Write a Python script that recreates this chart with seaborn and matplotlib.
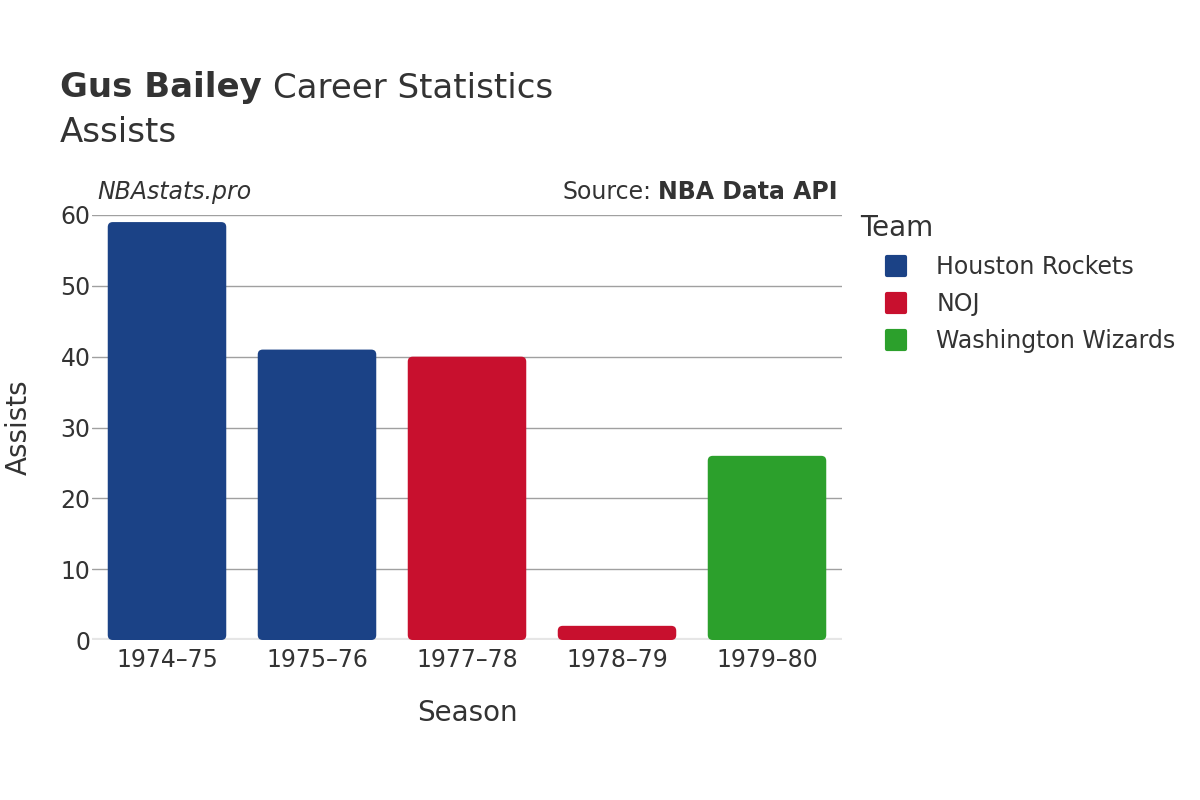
import matplotlib
matplotlib.use("Agg")
import matplotlib.pyplot as plt
import seaborn as sns
import pandas as pd
from matplotlib.patches import FancyBboxPatch
from matplotlib.lines import Line2D
from matplotlib.markers import MarkerStyle

seasons = ["1974–75", "1975–76", "1977–78", "1978–79", "1979–80"]
teams = ["Houston Rockets", "Houston Rockets", "NOJ", "NOJ", "Washington Wizards"]
assists = [59, 41, 40, 2, 26]
team_order = ["Houston Rockets", "NOJ", "Washington Wizards"]
team_colors = ["#1b4286", "#c8102e", "#2ca02c"]

df = pd.DataFrame({"Season": seasons, "Team": teams, "Assists": assists})

sns.set_theme(style="white")
plt.rcParams["font.family"] = ["DejaVu Sans"]
TXT = "#333333"

fig = plt.figure(figsize=(12, 8), dpi=100)
ax = fig.add_axes([92/1200, 1-640/800, 750/1200, 425/800])

sns.barplot(data=df, x="Season", y="Assists", hue="Team", hue_order=team_order,
            palette=team_colors, dodge=False, width=0.79, ax=ax, legend=False,
            order=seasons, saturation=1)

# rounded bars
px_x = 750/5  # px per x unit
px_y = 425/60
r_px = 5
for p in list(ax.patches):
    x, y = p.get_x(), p.get_y()
    w, h = p.get_width(), p.get_height()
    fc = p.get_facecolor()
    p.remove()
    if h == 0 or pd.isna(h):
        continue
    fb = FancyBboxPatch((x, y), w, h,
                        boxstyle=f"round,pad=0,rounding_size={r_px/px_x}",
                        mutation_aspect=px_x/px_y, facecolor=fc, edgecolor="none",
                        zorder=3)
    ax.add_patch(fb)

ax.set_ylim(0, 60)
ax.set_xlim(-0.5, 4.5)
ax.set_yticks([0, 10, 20, 30, 40, 50, 60])
ax.yaxis.grid(True, color="#a0a0a0", linewidth=1)
ax.set_axisbelow(True)
for s in ax.spines.values():
    s.set_visible(False)
ax.axhline(0, color="#e6e6e6", linewidth=3, zorder=2)
ax.tick_params(axis="both", labelsize=17, colors=TXT, length=0)
ax.tick_params(axis="x", pad=6)
ax.tick_params(axis="y", pad=1)
ax.set_xlabel("Season", fontsize=20, color=TXT, labelpad=19)
ax.set_ylabel("Assists", fontsize=20, color=TXT, labelpad=20)

# titles
t1 = fig.text(60/1200, 1-88/800, "Gus Bailey", fontsize=24.5, fontweight="bold",
              color=TXT, va="center")
fig.canvas.draw()
bb = t1.get_window_extent()
fig.text((bb.x1 + 11)/1200, 1-88/800, "Career Statistics", fontsize=24.5,
         color=TXT, va="center")
fig.text(60/1200, 1-132/800, "Assists", fontsize=24.5, color=TXT, va="center")

fig.text(97/1200, 1-192/800, "NBAstats.pro", fontsize=17, style="italic",
         color=TXT, va="center")
s2 = fig.text(838/1200, 1-192/800, "NBA Data API", fontsize=17, fontweight="bold",
              color=TXT, va="center", ha="right")
fig.canvas.draw()
bb2 = s2.get_window_extent()
fig.text((bb2.x0 - 7)/1200, 1-192/800, "Source:", fontsize=17, color=TXT,
         va="center", ha="right")

ms = MarkerStyle("s", joinstyle="round")
handles = [Line2D([0], [0], marker=ms, linestyle="none", markersize=13,
                  markeredgewidth=3, markerfacecolor=c, markeredgecolor=c)
           for c in team_colors]
leg = fig.legend(handles, team_order, loc="upper left",
                 bbox_to_anchor=(839/1200, 1-193/800), frameon=False,
                 fontsize=17, title="Team", title_fontsize=20,
                 labelspacing=0.55, handlelength=3.05, handletextpad=0.17,
                 alignment="left")
leg.get_title().set_color(TXT)
for t in leg.get_texts():
    t.set_color(TXT)

fig.savefig("out.png", dpi=100)
